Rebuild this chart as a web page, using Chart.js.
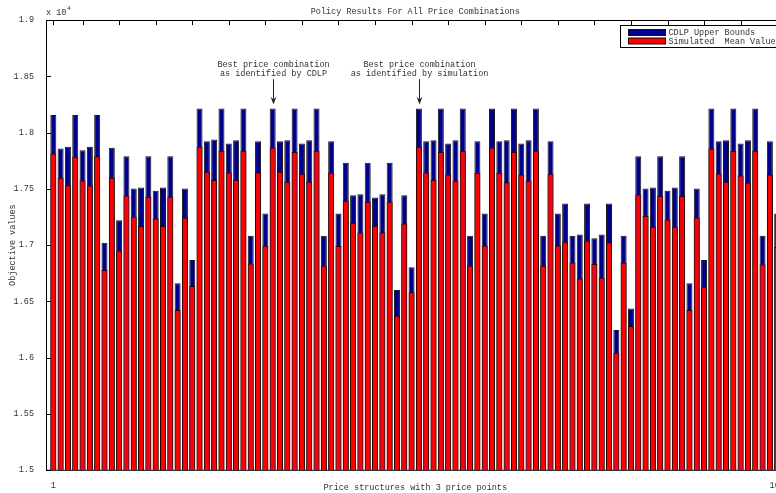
<!DOCTYPE html>
<html>
<head>
<meta charset="utf-8">
<title>Policy Results For All Price Combinations</title>
<script src="https://cdn.jsdelivr.net/npm/chart.js@4.4.1/dist/chart.umd.min.js"></script>
<style>
  html, body { margin: 0; padding: 0; background: #fff; }
  #wrap { width: 776px; height: 493px; overflow: hidden; position: relative; }
  canvas { display: block; }
</style>
</head>
<body>
<div id="wrap"><canvas id="policyChart" width="800" height="493"></canvas></div>
<script>
// price structure index (1..100)
const structures = Array.from({ length: 100 }, (_, i) => i + 1);

const cdlpUpper = [
  18156, 17860, 17874, 18156, 17844, 17874, 18156, 17020, 17865, 17222,
  17791, 17504, 17513, 17791, 17483, 17513, 17791, 16660, 17504, 16867,
  18215, 17924, 17940, 18215, 17904, 17933, 18215, 17083, 17924, 17282,
  18215, 17924, 17933, 18215, 17904, 17933, 18215, 17083, 17924, 17282,
  17732, 17444, 17453, 17732, 17424, 17453, 17732, 16600, 17444, 16802,
  18215, 17924, 17933, 18215, 17904, 17933, 18215, 17083, 17924, 17282,
  18215, 17924, 17933, 18215, 17904, 17933, 18215, 17083, 17924, 17282,
  17371, 17083, 17095, 17371, 17060, 17095, 17371, 16244, 17083, 16437,
  17791, 17504, 17513, 17791, 17483, 17513, 17791, 16660, 17504, 16867,
  18215, 17924, 17933, 18215, 17904, 17933, 18215, 17083, 17924, 17282
];

const simulatedMean = [
  17815, 17598, 17533, 17785, 17575, 17530, 17791, 16778, 17598, 16953,
  17442, 17252, 17169, 17429, 17237, 17169, 17429, 16422, 17243, 16636,
  17874, 17652, 17578, 17838, 17646, 17578, 17838, 16837, 17646, 16994,
  17868, 17652, 17563, 17829, 17634, 17563, 17838, 16816, 17643, 16991,
  17394, 17198, 17113, 17385, 17172, 17113, 17385, 16372, 17193, 16580,
  17874, 17646, 17578, 17829, 17628, 17572, 17838, 16816, 17643, 16997,
  17868, 17643, 17560, 17827, 17628, 17572, 17838, 16816, 17634, 16997,
  17029, 16846, 16704, 17042, 16831, 16709, 17024, 16043, 16843, 16280,
  17451, 17258, 17163, 17436, 17228, 17163, 17436, 16422, 17246, 16629,
  17860, 17637, 17563, 17836, 17620, 17557, 17838, 16828, 17628, 16982
];

const yTicks = [15000, 15500, 16000, 16500, 17000, 17500, 18000, 18500, 19000];
const yTickLabels = ['1.5', '1.55', '1.6', '1.65', '1.7', '1.75', '1.8', '1.85', '1.9'];
const xTicks = [1, 5, 10, 15, 20, 25, 30, 35, 40, 45, 50, 55, 60, 65, 70, 75, 80, 85, 90, 95, 100];
const xTickLabels = { 1: '1', 100: '100' };

const bestCdlp = 31;
const bestSim = 51;

const MONO = '"Liberation Mono", "DejaVu Sans Mono", monospace';
const TXT = '#333';
const BLUE = '#00008f';
const RED = '#ff0000';

// frame, inward ticks, exponent, arrows and legend
const decorations = {
  id: 'decorations',
  beforeDatasetsDraw(chart) {
    const { ctx, chartArea: a, scales: { x, y } } = chart;
    ctx.save();
    ctx.strokeStyle = '#000';
    ctx.lineWidth = 1;
    ctx.strokeRect(Math.round(a.left) + 0.5, Math.round(a.top) + 0.5, a.right - a.left, a.bottom - a.top);
    ctx.beginPath();
    xTicks.forEach(v => {
      const px = Math.round(x.getPixelForValue(v)) + 0.5;
      ctx.moveTo(px, a.top); ctx.lineTo(px, a.top + 5);
      ctx.moveTo(px, a.bottom); ctx.lineTo(px, a.bottom - 5);
    });
    yTicks.forEach(v => {
      const py = Math.round(y.getPixelForValue(v)) + 0.5;
      ctx.moveTo(a.left, py); ctx.lineTo(a.left + 5, py);
      ctx.moveTo(a.right, py); ctx.lineTo(a.right - 5, py);
    });
    ctx.stroke();
    ctx.restore();
  },
  afterDatasetsDraw(chart) {
    const { ctx, chartArea: a, scales: { x, y } } = chart;
    ctx.save();

    // x 10^4
    ctx.fillStyle = TXT;
    ctx.textAlign = 'left';
    ctx.textBaseline = 'alphabetic';
    ctx.font = '8.5px ' + MONO;
    ctx.fillText('x 10', a.left, a.top - 5);
    ctx.font = '6px ' + MONO;
    ctx.fillText('4', a.left + 21, a.top - 10);

    // annotations
    const notes = [
      { idx: bestCdlp, lines: ['Best price combination', 'as identified by CDLP'] },
      { idx: bestSim, lines: ['Best price combination', 'as identified by simulation'] }
    ];
    notes.forEach(n => {
      const px = Math.round(x.getPixelForValue(n.idx)) + 0.5;
      const tip = y.getPixelForValue(cdlpUpper[n.idx - 1]) - 4;
      ctx.font = '8.5px ' + MONO;
      ctx.fillStyle = TXT;
      ctx.textAlign = 'center';
      ctx.textBaseline = 'middle';
      ctx.fillText(n.lines[0], px, a.top + 45);
      ctx.fillText(n.lines[1], px, a.top + 54);
      ctx.strokeStyle = '#222';
      ctx.lineWidth = 1;
      ctx.beginPath();
      ctx.moveTo(px, a.top + 59);
      ctx.lineTo(px, tip - 3);
      ctx.stroke();
      ctx.fillStyle = '#222';
      ctx.beginPath();
      ctx.moveTo(px - 3, tip - 8);
      ctx.lineTo(px, tip - 5);
      ctx.lineTo(px + 3, tip - 8);
      ctx.lineTo(px, tip);
      ctx.closePath();
      ctx.fill();
    });

    // legend box inside the axes, top right
    const lx = Math.round(a.right - 165) + 0.5;
    const ly = Math.round(a.top + 5) + 0.5;
    ctx.fillStyle = '#fff';
    ctx.fillRect(lx, ly, 170, 22);
    ctx.strokeStyle = '#000';
    ctx.lineWidth = 1;
    ctx.strokeRect(lx, ly, 170, 22);
    const items = chart.data.datasets;
    items.forEach((ds, i) => {
      const sy = ly + 4 + i * 8.5;
      ctx.fillStyle = ds.backgroundColor;
      ctx.fillRect(lx + 8, sy, 37, 6);
      ctx.strokeStyle = '#111';
      ctx.strokeRect(lx + 8, sy, 37, 6);
      ctx.fillStyle = TXT;
      ctx.font = '8.5px ' + MONO;
      ctx.textAlign = 'left';
      ctx.textBaseline = 'middle';
      ctx.fillText(ds.label, lx + 48, sy + 3.5);
    });
    ctx.restore();
  }
};

new Chart(document.getElementById('policyChart'), {
  type: 'bar',
  data: {
    datasets: [
      {
        label: 'CDLP Upper Bounds',
        data: structures.map((s, i) => ({ x: s, y: cdlpUpper[i] })),
        backgroundColor: BLUE,
        borderColor: '#1a1a1a',
        borderWidth: 1,
        grouped: false,
        order: 2
      },
      {
        label: 'Simulated  Mean Value',
        data: structures.map((s, i) => ({ x: s, y: simulatedMean[i] })),
        backgroundColor: RED,
        borderColor: '#2a0000',
        borderWidth: 1,
        grouped: false,
        order: 1
      }
    ]
  },
  options: {
    responsive: false,
    animation: false,
    devicePixelRatio: 1,
    categoryPercentage: 1,
    barPercentage: 0.82,
    layout: { padding: { left: 0, right: 15.5, top: 0, bottom: 0 } },
    plugins: {
      legend: { display: false },
      tooltip: { enabled: false },
      title: {
        display: true,
        text: 'Policy Results For All Price Combinations',
        fullSize: false,
        color: TXT,
        font: { family: MONO, size: 8.5, weight: 'normal' },
        padding: { top: 7, bottom: 3 }
      }
    },
    scales: {
      x: {
        type: 'linear',
        offset: false,
        min: 0,
        max: 101,
        grid: { display: false, offset: false },
        border: { display: false },
        afterBuildTicks: s => { s.ticks = xTicks.map(v => ({ value: v })); },
        afterFit: s => { s.height = 23; },
        ticks: {
          autoSkip: false,
          maxRotation: 0,
          padding: 3,
          color: TXT,
          font: { family: MONO, size: 8.5 },
          callback: v => xTickLabels[v] || ''
        },
        title: {
          display: true,
          text: 'Price structures with 3 price points',
          color: TXT,
          font: { family: MONO, size: 8.5 },
          padding: { top: 0, bottom: 0 }
        }
      },
      y: {
        min: 15000,
        max: 19000,
        grid: { display: false },
        border: { display: false },
        afterBuildTicks: s => { s.ticks = yTicks.map(v => ({ value: v })); },
        afterFit: s => { s.width = 46; },
        ticks: {
          padding: 4,
          color: TXT,
          font: { family: MONO, size: 8.5 },
          callback: v => yTickLabels[yTicks.indexOf(v)]
        },
        title: {
          display: true,
          text: 'Objective values',
          color: TXT,
          font: { family: MONO, size: 8.5 },
          padding: { top: 8, bottom: 0 }
        }
      }
    }
  },
  plugins: [decorations]
});
</script>
</body>
</html>
